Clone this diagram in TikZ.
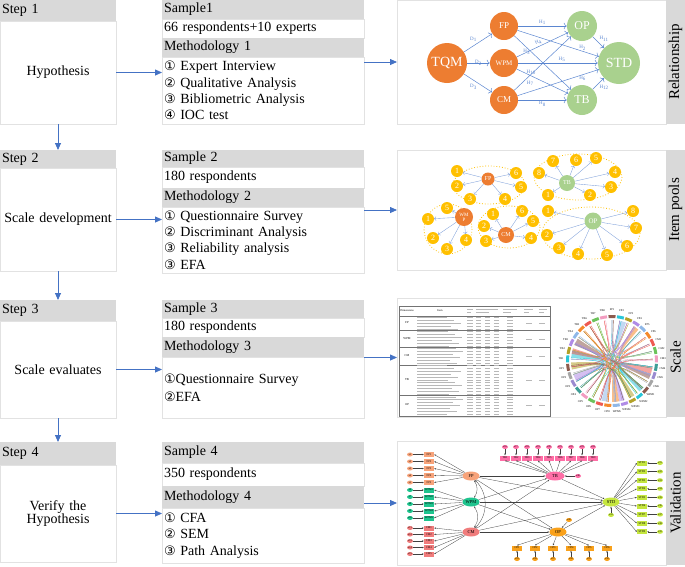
\documentclass[tikz,border=0pt]{standalone}
\usepackage{fontspec}
\setmainfont{Liberation Serif}
\newfontfamily\circfont{DejaVu Sans}
\usetikzlibrary{positioning,arrows,arrows.meta,shapes.geometric}
\definecolor{bandgray}{HTML}{D9D9D9}
\definecolor{boxline}{HTML}{E2E2E2}
\definecolor{flowblue}{HTML}{4472C4}
\definecolor{relblue}{HTML}{5B86D0}
\definecolor{tqmorange}{HTML}{ED7D31}
\definecolor{relgreen}{HTML}{A9D18E}
\definecolor{poolyellow}{HTML}{FFC000}
\definecolor{fpsalmon}{HTML}{F7A37A}
\definecolor{wpmteal}{HTML}{1FC48E}
\definecolor{cmcoral}{HTML}{F07C7C}
\definecolor{tbpink}{HTML}{FF6EA6}
\definecolor{stdlime}{HTML}{C5E63F}
\definecolor{opamber}{HTML}{F9A11B}
\definecolor{chordc0}{HTML}{8C5B4E}
\definecolor{chordc1}{HTML}{29C6D8}
\definecolor{chordc2}{HTML}{B3A128}
\definecolor{chordc3}{HTML}{B08BE6}
\definecolor{chordc4}{HTML}{8FB8E8}
\definecolor{chordc5}{HTML}{F5892A}
\definecolor{chordc6}{HTML}{EE5A52}
\definecolor{chordc7}{HTML}{6CC25A}
\definecolor{chordc8}{HTML}{F29CC0}
\definecolor{chordc9}{HTML}{3F9E96}
\definecolor{chordc10}{HTML}{9B8BD0}
\definecolor{chordc11}{HTML}{A6A6A6}
\newcommand{\cn}[1]{{\circfont\fontsize{13}{16}\selectfont#1}}
\tikzset{
  bandhead/.style={fill=bandgray, anchor=north west, outer sep=0pt, inner xsep=2pt, inner ysep=0pt, align=left},
  stepbody/.style={draw=boxline, anchor=north west, outer sep=0pt, text width=112pt, inner xsep=2pt, inner ysep=0pt, align=center},
  smpline/.style={draw=boxline, anchor=north west, outer sep=0pt, text width=198pt, inner xsep=2pt, inner ysep=0pt, align=left},
  panelbox/.style={draw=boxline, anchor=north west, outer sep=0pt, inner sep=0pt},
  sideband/.style={fill=bandgray, rotate=90, minimum height=19pt, inner sep=0pt, font=\fontsize{15}{15}\selectfont},
  flow/.style={draw=flowblue, line width=0.8pt, -{Triangle[length=7pt,width=6pt]}},
  relnode/.style={circle, text=white, inner sep=0pt},
  reledge/.style={draw=relblue, line width=0.5pt, -{To[length=3pt]}},
  rellab/.style={text=relblue, inner sep=1pt, font=\fontsize{5}{5}\selectfont},
  itemdot/.style={circle, fill=poolyellow, text=white, minimum size=12pt, inner sep=0pt, font=\fontsize{8}{8}\selectfont},
  poolc/.style={circle, text=white, inner sep=0pt, align=center, font=\fontsize{6}{5}\selectfont},
  poolarrow/.style={draw=relblue!80, line width=0.35pt, -{To[length=2pt]}},
  pooledge/.style={draw=poolyellow, dotted, line width=0.8pt},
  tabline/.style={draw=black!55, line width=0.4pt},
  tabtext/.style={draw=black!28, line width=0.6pt},
  chordline/.style={line width=0.35pt},
  chordlab/.style={inner sep=0pt, font=\fontsize{2.8}{2.8}\selectfont},
  lat/.style={ellipse, inner sep=0pt, minimum width=17pt, minimum height=9pt, font=\fontsize{4.5}{4.5}\selectfont},
  ind/.style={rectangle, inner sep=0pt, minimum width=10pt, minimum height=5pt, font=\fontsize{2.8}{2.8}\selectfont},
  err/.style={ellipse, inner sep=0pt, minimum width=6pt, minimum height=4pt, font=\fontsize{2.5}{2.5}\selectfont},
  semarrow/.style={draw=black!75, line width=0.3pt, -{Stealth[length=1.8pt,width=1.5pt]}},
  semcov/.style={draw=black!75, line width=0.3pt, {Stealth[length=1.8pt,width=1.5pt]}-{Stealth[length=1.8pt,width=1.5pt]}}
}

\begin{document}
\begin{tikzpicture}[x=1pt,y=-1pt,font=\fontsize{14}{16.3}\selectfont]
\useasboundingbox (0,0) rectangle (685,566);

% steps
\node[bandhead, text width=112pt, minimum height=21pt] (st1) at (0,0) {Step 1};
\node[stepbody, minimum height=103pt] (sb1) at (0,21) {Hypothesis};
\node[bandhead, text width=112pt, minimum height=18pt] (st2) at (0,150) {Step 2};
\node[stepbody, minimum height=103pt] (sb2) at (0,168) {Scale development};
\node[bandhead, text width=112pt, minimum height=21pt] (st3) at (0,300) {Step 3};
\node[stepbody, minimum height=97pt] (sb3) at (0,321) {Scale evaluates};
\node[bandhead, text width=112pt, minimum height=23pt] (st4) at (0,442) {Step 4};
\node[stepbody, minimum height=97pt, font=\fontsize{14}{13}\selectfont] (sb4) at (0,465) {Verify the\\Hypothesis};

% samples and methods
\node[bandhead, text width=198pt, minimum height=19pt] (sa1) at (162,0) {Sample1};
\node[smpline, minimum height=19pt] (sn1) at (162,19) {66 respondents+10 experts};
\node[bandhead, text width=198pt, minimum height=19pt] (me1) at (162,38) {Methodology 1};
\node[smpline, minimum height=67pt] (mi1) at (162,57) {\cn{①} Expert Interview\\ \cn{②} Qualitative Analysis\\ \cn{③} Bibliometric Analysis\\ \cn{④} IOC test};

\node[bandhead, text width=198pt, minimum height=17pt] (sa2) at (162,150) {Sample 2};
\node[smpline, minimum height=21pt] (sn2) at (162,167) {180 respondents};
\node[bandhead, text width=198pt, minimum height=19pt] (me2) at (162,188) {Methodology 2};
\node[smpline, minimum height=66pt] (mi2) at (162,207) {\cn{①} Questionnaire Survey\\ \cn{②} Discriminant Analysis\\ \cn{③} Reliability analysis\\ \cn{③} EFA};

\node[bandhead, text width=198pt, minimum height=18pt] (sa3) at (162,300) {Sample 3};
\node[smpline, minimum height=19pt] (sn3) at (162,318) {180 respondents};
\node[bandhead, text width=198pt, minimum height=20pt] (me3) at (162,337) {Methodology 3};
\node[smpline, minimum height=61pt, font=\fontsize{14}{18}\selectfont] (mi3) at (162,357) {\cn{①}Questionnaire Survey\\ \cn{②}EFA};

\node[bandhead, text width=198pt, minimum height=21pt] (sa4) at (162,442) {Sample 4};
\node[smpline, minimum height=23pt] (sn4) at (162,463) {350 respondents};
\node[bandhead, text width=198pt, minimum height=22pt] (me4) at (162,486) {Methodology 4};
\node[smpline, minimum height=55pt, font=\fontsize{14}{16.5}\selectfont] (mi4) at (162,508) {\cn{①} CFA\\ \cn{②} SEM\\ \cn{③} Path Analysis};

% panels
\node[panelbox, minimum width=269pt, minimum height=124pt] (pa1) at (397,0) {};
\node[panelbox, minimum width=269pt, minimum height=120pt] (pa2) at (397,150) {};
\node[panelbox, minimum width=269pt, minimum height=119pt] (pa3) at (397,298) {};
\node[panelbox, minimum width=269pt, minimum height=124pt] (pa4) at (397,441) {};
\node[sideband, minimum width=124pt] (sd1) at (675.5,62) {Relationship};
\node[sideband, minimum width=120pt] (sd2) at (675.5,210) {Item pools};
\node[sideband, minimum width=119pt] (sd3) at (675.5,357.5) {Scale};
\node[sideband, minimum width=124pt] (sd4) at (675.5,503) {Validation};

% flow
\draw[flow] (sb1.south) -- (st2.north);
\draw[flow] (sb2.south) -- (st3.north);
\draw[flow] (sb3.south) -- (st4.north);
\foreach \r in {1,...,4}{
  \draw[flow] (sb\r.east) -- (sb\r.east -| sa\r.west);
  \draw[flow] (pa\r.west -| sa\r.east) -- (pa\r.west);
}

% relationship
\node[relnode, fill=tqmorange, minimum size=40pt, font=\fontsize{14}{14}\selectfont] (tqm) at (447,63) {TQM};
\node[relnode, fill=tqmorange, minimum size=28pt, font=\fontsize{9}{9}\selectfont] (fp) at (504,26) {FP};
\node[relnode, fill=tqmorange, minimum size=28pt, font=\fontsize{7}{7}\selectfont] (wpm) at (504,63) {WPM};
\node[relnode, fill=tqmorange, minimum size=28pt, font=\fontsize{9}{9}\selectfont] (cm) at (504,100) {CM};
\node[relnode, fill=relgreen, minimum size=30pt, font=\fontsize{12}{12}\selectfont] (op) at (582,26) {OP};
\node[relnode, fill=relgreen, minimum size=30pt, font=\fontsize{12}{12}\selectfont] (tb) at (582,100) {TB};
\node[relnode, fill=relgreen, minimum size=42pt, font=\fontsize{14}{14}\selectfont] (std) at (619,63) {STD};
\draw[reledge] (tqm) -- node[rellab, above left] {D\textsubscript{1}} (fp);
\draw[reledge] (tqm) -- node[rellab] {D\textsubscript{2}} (wpm);
\draw[reledge] (tqm) -- node[rellab, below left] {D\textsubscript{3}} (cm);
\draw[reledge] (fp) -- node[rellab, above] {H\textsubscript{1}} (op);
\draw[reledge] (fp) -- node[rellab, pos=.8, above] {H\textsubscript{2}} (std);
\draw[reledge] (fp) -- node[rellab, pos=.3, left] {H\textsubscript{3}} (tb);
\draw[reledge] (wpm) -- node[rellab, pos=.45, sloped, above] {H\textsubscript{4}} (op);
\draw[reledge] (wpm) -- node[rellab, pos=.55, above] {H\textsubscript{5}} (std);
\draw[reledge] (wpm) -- node[rellab, pos=.28, above] {H\textsubscript{10}} (tb);
\draw[reledge] (cm) -- node[rellab, pos=.8, below] {H\textsubscript{6}} (std);
\draw[reledge] (cm) -- node[rellab, pos=.2, below right] {H\textsubscript{7}} (op);
\draw[reledge] (cm) -- node[rellab, below] {H\textsubscript{8}} (tb);
\draw[reledge] (op) -- node[rellab, above right] {H\textsubscript{11}} (std);
\draw[reledge] (tb) -- node[rellab, below right] {H\textsubscript{12}} (std);

% item pools
\draw[pooledge] (489,185) ellipse [x radius=36, y radius=19];
\draw[pooledge] (578,177) ellipse [x radius=44, y radius=23];
\draw[pooledge] (448,229) ellipse [x radius=24, y radius=25];
\draw[pooledge] (509,227) ellipse [x radius=31, y radius=21];
\draw[pooledge] (591,233) ellipse [x radius=49, y radius=26];
\node[poolc, fill=tqmorange, minimum size=13pt] (pfp) at (488,179) {FP};
\node[poolc, fill=relgreen, minimum size=16pt] (ptb) at (567,183) {TB};
\node[poolc, fill=tqmorange, minimum size=18pt, font=\fontsize{5}{5}\selectfont] (pwm) at (464,217) {WM\\P};
\node[poolc, fill=tqmorange, minimum size=16pt] (pcm) at (506,235) {CM};
\node[poolc, fill=relgreen, minimum size=17pt, font=\fontsize{7}{7}\selectfont] (pop) at (593,221) {OP};
\foreach \n/\x/\y in {1/457/171,6/516/173,2/457/186,5/521/187,3/470/199,4/505/199}{
  \node[itemdot] (pfp\n) at (\x,\y) {\n};
  \draw[poolarrow] (pfp) -- (pfp\n);
}
\foreach \n/\x/\y in {7/553/161,6/576/160,5/596/158,4/615/172,3/611/187,2/590/195,1/548/195,8/539/173}{
  \node[itemdot] (ptb\n) at (\x,\y) {\n};
  \draw[poolarrow] (ptb) -- (ptb\n);
}
\foreach \n/\x/\y in {5/447/208,1/428/219,2/433/238,3/447/249,4/466/240}{
  \node[itemdot] (pwm\n) at (\x,\y) {\n};
  \draw[poolarrow] (pwm) -- (pwm\n);
}
\foreach \n/\x/\y in {1/493/214,6/522/211,2/484/226,5/533/221,3/486/241,4/531/238}{
  \node[itemdot] (pcm\n) at (\x,\y) {\n};
  \draw[poolarrow] (pcm) -- (pcm\n);
}
\foreach \n/\x/\y in {1/548/211,8/633/211,2/547/235,7/636/228,3/559/248,6/627/246,4/578/254,5/607/255}{
  \node[itemdot] (pop\n) at (\x,\y) {\n};
  \draw[poolarrow] (pop) -- (pop\n);
}

% scale table
\draw[tabline] (399,306) rectangle (550,416);
\foreach \y in {316,330,347,365,395}{
  \draw[tabline] (399,\y) -- (550,\y);
}
\node[inner sep=0pt, font=\fontsize{2.8}{2.8}\selectfont] (tdim) at (407,311) {Dimensions};
\node[inner sep=0pt, font=\fontsize{2.8}{2.8}\selectfont] (titem) at (440,311) {Item};
\foreach \x/\w in {467/6,476/22,503/14,524/9,539/8}{
  \draw[tabtext] (\x,309.5) -- (\x+\w,309.5);
  \draw[tabtext] (\x,312.5) -- (\x+\w*.6,312.5);
}
\foreach \r in {0,...,34}{
  \pgfmathsetmacro{\ry}{317.6+\r*2.83}
  \pgfmathsetmacro{\len}{30+mod(\r*7,17)}
  \draw[tabtext] (417,\ry) -- (417+\len,\ry);
  \draw[tabtext] (467,\ry) -- (473,\ry);
  \draw[tabtext] (476,\ry) -- (481,\ry);
  \draw[tabtext] (485,\ry) -- (490,\ry);
  \draw[tabtext] (494,\ry) -- (499,\ry);
  \draw[tabtext] (507,\ry) -- (513,\ry);
}
\foreach \t/\y in {FP/323,WPM/339,CM/356,TB/380,OP/405}{
  \node[inner sep=0pt, font=\fontsize{3}{3}\selectfont] (tg\t) at (407,\y) {\t};
  \draw[tabtext] (526,\y) -- (532,\y);
  \draw[tabtext] (539,\y) -- (545,\y);
}

% scale chord
\begin{scope}[shift={(612,361)}]
\foreach \p/\q/\k in {203/18/0,185/40/1,168/57/2,150/72/3,95/-78/4,80/-58/5,8/190/6}{
  \fill[fill=chordc\k, fill opacity=.55] (\p:41) .. controls (0,0) .. (\q+8:41) -- (\q:41) .. controls (0,0) .. (\p+10:41) -- cycle;
}
\foreach \i in {0,...,32}{
  \pgfmathsetmacro{\a}{-90+\i*360/33}
  \pgfmathtruncatemacro{\k}{mod(\i,12)}
  \pgfmathsetmacro{\b}{-90+mod(\i*7+12,33)*360/33}
  \pgfmathsetmacro{\c}{-90+mod(\i*13+5,33)*360/33}
  \draw[chordline, draw=chordc\k] (\a:41) .. controls (0,0) .. (\b:41);
  \draw[chordline, draw=chordc\k] (\a+2:41) .. controls (0,0) .. (\c:41);
  \draw[draw=chordc\k, line width=3pt] (\a-4.5:44.5) arc[start angle=\a-4.5, end angle=\a+4.5, radius=44.5];
}
\foreach \i/\t in {0/FP1,1/FP2,2/FP3,3/FP4,4/FP5,5/FP6,6/CM1,7/CM2,8/CM3,9/CM4,10/CM5,11/CM6,12/WPM1,13/WPM2,14/WPM3,15/WPM4,16/WPM5,17/OP8,18/OP7,19/OP6,20/OP5,21/OP4,22/OP3,23/OP2,24/OP1,25/TB1,26/TB2,27/TB3,28/TB4,29/TB5,30/TB6,31/TB7,32/TB8}{
  \pgfmathsetmacro{\a}{-90+\i*360/33}
  \node[chordlab] (cl\i) at (\a:51) {\t};
}
\end{scope}

% validation
\node[lat, fill=fpsalmon] (lfp) at (471,476) {FP};
\node[lat, fill=wpmteal] (lwpm) at (471,502) {WPM};
\node[lat, fill=cmcoral] (lcm) at (471,532) {CM};
\node[lat, fill=tbpink, minimum width=19pt] (ltb) at (555,476) {TB};
\node[lat, fill=stdlime] (lstd) at (611,502) {STD};
\node[lat, fill=opamber] (lop) at (558,532) {OP};
\foreach \n/\y in {1/454.5,2/461.5,3/468.5,4/475.5,5/482.5}{
  \node[ind, fill=fpsalmon] (ifp\n) at (429,\y) {FP\n};
  \node[err, fill=fpsalmon] (efp\n) at (410,\y) {e\n};
  \draw[semarrow] (efp\n) -- (ifp\n);
  \draw[semarrow] (lfp) -- (ifp\n.east);
}
\foreach \n/\y in {1/490,2/497,3/504,4/511,5/518}{
  \pgfmathtruncatemacro{\m}{5+\n}
  \node[ind, fill=wpmteal] (iwpm\n) at (429,\y) {WPM\n};
  \node[err, fill=wpmteal] (ewpm\n) at (410,\y) {e\m};
  \draw[semarrow] (ewpm\n) -- (iwpm\n);
  \draw[semarrow] (lwpm) -- (iwpm\n.east);
}
\foreach \n/\y in {1/528,2/534.5,3/541,4/547.5,5/554}{
  \pgfmathtruncatemacro{\m}{10+\n}
  \node[ind, fill=cmcoral] (icm\n) at (429,\y) {CM\n};
  \node[err, fill=cmcoral] (ecm\n) at (410,\y) {e\m};
  \draw[semarrow] (ecm\n) -- (icm\n);
  \draw[semarrow] (lcm) -- (icm\n.east);
}
\foreach \n in {1,...,9}{
  \pgfmathsetmacro{\x}{494+\n*11}
  \pgfmathtruncatemacro{\m}{15+\n}
  \node[ind, fill=tbpink] (itb\n) at (\x,458) {TB\n};
  \node[err, fill=tbpink] (etb\n) at (\x,447) {e\m};
  \draw[semarrow] (etb\n) -- (itb\n);
  \draw[semarrow] (ltb) -- (itb\n.south);
}
\foreach \n in {1,...,6}{
  \pgfmathsetmacro{\x}{499+\n*18}
  \pgfmathtruncatemacro{\m}{24+\n}
  \node[ind, fill=opamber] (iop\n) at (\x,548) {OP\n};
  \node[err, fill=opamber] (eop\n) at (\x,559) {e\m};
  \draw[semarrow] (eop\n) -- (iop\n);
  \draw[semarrow] (lop) -- (iop\n.north);
}
\foreach \n in {1,...,9}{
  \pgfmathsetmacro{\y}{454.4+\n*8.6}
  \pgfmathtruncatemacro{\m}{30+\n}
  \node[ind, fill=stdlime] (istd\n) at (642,\y) {STD\n};
  \node[err, fill=stdlime] (estd\n) at (660,\y) {e\m};
  \draw[semarrow] (estd\n) -- (istd\n);
  \draw[semarrow] (lstd) -- (istd\n.west);
}
\node[err, fill=tbpink] (etb) at (578,476) {e40};
\node[err, fill=stdlime] (estd) at (611,515) {e41};
\node[err, fill=opamber] (eop) at (569,520) {e42};
\draw[semarrow] (etb) -- (ltb);
\draw[semarrow] (estd) -- (lstd);
\draw[semarrow] (eop) -- (lop);
\foreach \s in {fp,wpm,cm}{
  \draw[semarrow] (l\s) -- (ltb);
  \draw[semarrow] (l\s) -- (lstd);
  \draw[semarrow] (l\s) -- (lop);
}
\draw[semarrow] (ltb) -- (lstd);
\draw[semarrow] (lop) -- (lstd);
\draw[semcov] (lfp) to[bend left=35] (lwpm);
\draw[semcov] (lwpm) to[bend left=35] (lcm);
\draw[semcov] (lfp) to[bend left=45] (lcm);
\end{tikzpicture}
\end{document}
